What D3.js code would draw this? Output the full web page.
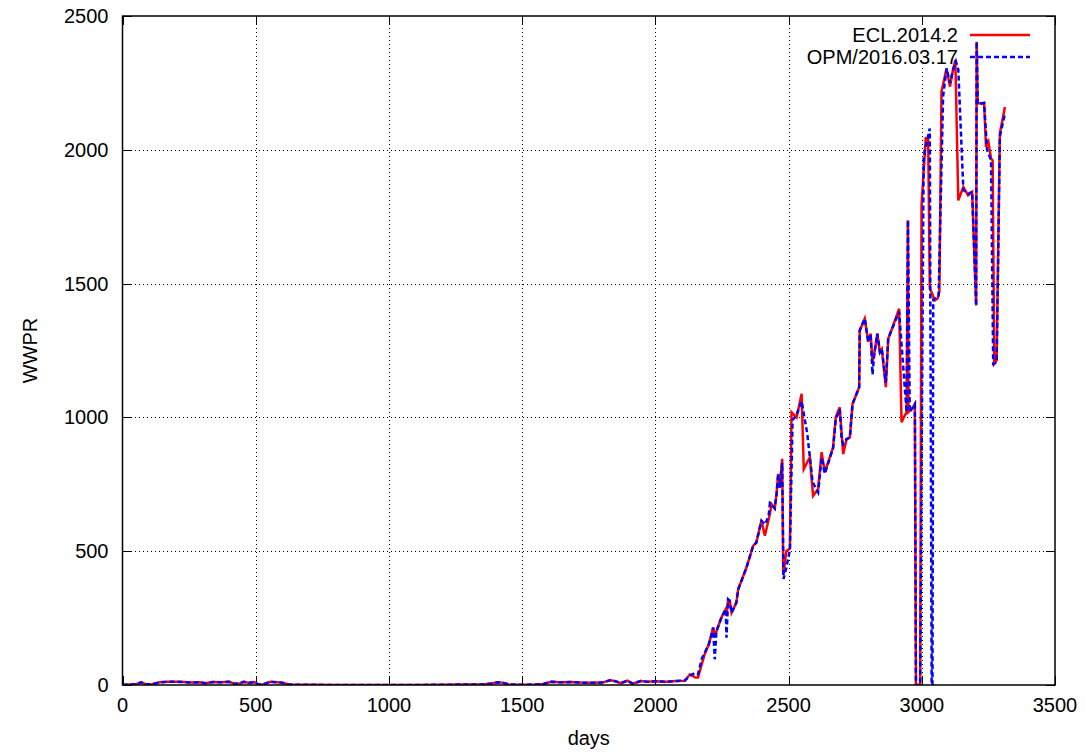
<!DOCTYPE html>
<html>
<head>
<meta charset="utf-8">
<script src="https://cdn.jsdelivr.net/npm/d3@7"></script>
<style>
  body { margin: 0; background: #fff; }
  text { font-family: "Liberation Sans", Arial, sans-serif; fill: #000; }
</style>
</head>
<body>
<div id="chart"></div>
<script>
// ECL.2014.2 series (days, WWPR)
var eclDays = [0, 20, 50, 70, 90, 110, 140, 170, 200, 230, 260, 290, 310, 340, 370, 400, 420, 440, 455, 475, 495, 510, 530, 555, 580, 600, 625, 660, 700, 800, 900, 1000, 1100, 1200, 1300, 1350, 1385, 1410, 1430, 1450, 1500, 1550, 1580, 1610, 1640, 1680, 1720, 1760, 1800, 1830, 1850, 1870, 1895, 1915, 1945, 1970, 2000, 2040, 2080, 2110, 2130, 2150, 2160,
  2185, 2200, 2211, 2217, 2223, 2229, 2248, 2264, 2267, 2273, 2279, 2286, 2304, 2311, 2342, 2367, 2379, 2398, 2411, 2430, 2436, 2448, 2455, 2461, 2467, 2476, 2480, 2492, 2505, 2511, 2530, 2549, 2557, 2580, 2592, 2611, 2624, 2636, 2667, 2677, 2692, 2705, 2718, 2730, 2740, 2765, 2767, 2786, 2799, 2808, 2815, 2822, 2833, 2843, 2850, 2865, 2874, 2886, 2915, 2924, 2935, 2943, 2948, 2950, 2965, 2974, 2978, 2994, 2999, 3015, 3024, 3030, 3040, 3048, 3060, 3066, 3074, 3093, 3106, 3118, 3126, 3137, 3156, 3174, 3189, 3204, 3206, 3210, 3234, 3241, 3250, 3260, 3266, 3272, 3281, 3293, 3312];
var eclWWPR = [0, 2, 3, 10, 2, 3, 10, 12, 12, 11, 9, 10, 7, 11, 10, 12, 5, 6, 12, 8, 11, 2, 3, 12, 10, 8, 2, 1, 1, 0, 0, 0, 0, 1, 2, 2, 6, 10, 8, 2, 1, 2, 4, 12, 10, 11, 9, 8, 9, 18, 14, 7, 16, 5, 15, 12, 14, 12, 15, 16, 40, 28, 28,
  115, 150, 190, 215, 180, 200, 252, 283, 260, 320, 315, 270, 308, 358, 439, 520, 532, 614, 558, 639, 676, 660, 714, 789, 738, 845, 414, 501, 510, 1019, 1000, 1088, 807, 851, 707, 732, 870, 795, 888, 1000, 1038, 863, 919, 925, 1050, 1113, 1325, 1369, 1282, 1313, 1207, 1240, 1313, 1244, 1255, 1113, 1294, 1325, 1406, 982, 1005, 1019, 1737, 1020, 1035, 1050, 0, 0, 1793, 2043, 2040, 1482, 1460, 1437, 1445, 1470, 2217, 2304, 2236, 2304, 2335, 1811, 1861, 1830, 1843, 1418, 2404, 2173, 2175, 2011, 2030, 1967, 1960, 1200, 1213, 2061, 2160];

// OPM/2016.03.17 series (days, WWPR)
var opmDays = [0, 20, 50, 70, 90, 110, 140, 170, 200, 230, 260, 290, 310, 340, 370, 400, 420, 440, 455, 475, 495, 510, 530, 555, 580, 600, 625, 660, 700, 800, 900, 1000, 1100, 1200, 1300, 1350, 1385, 1410, 1430, 1450, 1500, 1550, 1580, 1610, 1640, 1680, 1720, 1760, 1800, 1830, 1850, 1870, 1895, 1915, 1945, 1970, 2000, 2040, 2080, 2110, 2130, 2150, 2160,
  2175, 2200, 2211, 2217, 2223, 2229, 2248, 2264, 2267, 2273, 2279, 2286, 2304, 2311, 2342, 2367, 2379, 2398, 2411, 2425, 2430, 2436, 2448, 2455, 2461, 2467, 2476, 2481, 2492, 2505, 2515, 2530, 2549, 2570, 2590, 2600, 2611, 2624, 2636, 2667, 2677, 2692, 2699, 2705, 2718, 2730, 2740, 2765, 2767, 2786, 2799, 2808, 2815, 2822, 2833, 2843, 2850, 2865, 2874, 2886, 2915, 2943, 2948, 2955, 2965, 2974, 2978, 2994, 3007, 3030, 3037, 3040, 3043, 3063, 3080, 3093, 3106, 3118, 3128, 3137, 3156, 3174, 3189, 3204, 3206, 3210, 3234, 3245, 3260, 3268, 3281, 3293, 3312];
var opmWWPR = [0, 2, 3, 10, 2, 3, 10, 12, 12, 11, 9, 10, 7, 11, 10, 12, 5, 6, 12, 8, 11, 2, 3, 12, 10, 8, 2, 1, 1, 0, 0, 0, 0, 1, 2, 2, 6, 10, 8, 2, 1, 2, 4, 12, 10, 11, 9, 8, 9, 18, 14, 7, 16, 5, 15, 12, 14, 12, 15, 16, 35, 45, 40,
  100, 150, 190, 215, 96, 200, 252, 283, 177, 320, 315, 270, 308, 358, 439, 520, 532, 614, 600, 630, 680, 676, 660, 714, 789, 738, 830, 396, 440, 505, 990, 1010, 1060, 940, 760, 740, 720, 850, 790, 885, 990, 1030, 920, 900, 919, 925, 1050, 1113, 1325, 1369, 1282, 1313, 1160, 1240, 1313, 1244, 1255, 1130, 1294, 1325, 1395, 1019, 1737, 1020, 1035, 1050, 0, 0, 1973, 2080, 0, 0, 1440, 1450, 2200, 2304, 2250, 2300, 2330, 2300, 1850, 1835, 1843, 1418, 2404, 2170, 2175, 2000, 1960, 1200, 1205, 2050, 2135];

var xTicks = [0, 500, 1000, 1500, 2000, 2500, 3000, 3500];
var yTicks = [0, 500, 1000, 1500, 2000, 2500];
var seriesNames = ["ECL.2014.2", "OPM/2016.03.17"];

var width = 1086, height = 753;
var plot = { left: 122.5, right: 1055, top: 16, bottom: 685 };

var svg = d3.select("#chart").append("svg")
  .attr("width", width)
  .attr("height", height);

var x = d3.scaleLinear().domain([0, 3500]).range([plot.left, plot.right]);
var y = d3.scaleLinear().domain([0, 2500]).range([plot.bottom, plot.top]);

// grid
var grid = svg.append("g").attr("stroke", "#000").attr("stroke-width", 1)
  .attr("stroke-dasharray", "1,3").attr("shape-rendering", "crispEdges");
grid.selectAll(".gx").data(xTicks.slice(1, -1)).enter().append("line")
  .attr("x1", d => Math.round(x(d)) + 0.5).attr("x2", d => Math.round(x(d)) + 0.5)
  .attr("y1", plot.top).attr("y2", plot.bottom);
grid.selectAll(".gy").data(yTicks.slice(1, -1)).enter().append("line")
  .attr("y1", d => Math.round(y(d)) + 0.5).attr("y2", d => Math.round(y(d)) + 0.5)
  .attr("x1", plot.left).attr("x2", plot.right);

// key area hides grid
svg.append("rect").attr("x", 800).attr("y", plot.top + 1)
  .attr("width", plot.right - 801).attr("height", 51).attr("fill", "#fff");

// ticks and labels
var tickLen = 9;
var axes = svg.append("g").attr("stroke", "#000").attr("stroke-width", 1)
  .attr("shape-rendering", "crispEdges");
xTicks.forEach(function(d) {
  var px = Math.round(x(d)) + 0.5;
  axes.append("line").attr("x1", px).attr("x2", px).attr("y1", plot.bottom).attr("y2", plot.bottom - tickLen);
  axes.append("line").attr("x1", px).attr("x2", px).attr("y1", plot.top).attr("y2", plot.top + tickLen);
});
yTicks.forEach(function(d) {
  var py = Math.round(y(d)) + 0.5;
  axes.append("line").attr("y1", py).attr("y2", py).attr("x1", plot.left).attr("x2", plot.left + tickLen);
  axes.append("line").attr("y1", py).attr("y2", py).attr("x1", plot.right).attr("x2", plot.right - tickLen);
});

svg.selectAll(".xl").data(xTicks).enter().append("text")
  .attr("x", d => x(d)).attr("y", plot.bottom + 27)
  .attr("text-anchor", "middle").style("font-size", "20px").text(d => d);
svg.selectAll(".yl").data(yTicks).enter().append("text")
  .attr("x", plot.left - 14).attr("y", d => y(d) + 7)
  .attr("text-anchor", "end").style("font-size", "20px").text(d => d);

svg.append("text").attr("x", (plot.left + plot.right) / 2).attr("y", 745)
  .attr("text-anchor", "middle").style("font-size", "20px").text("days");
svg.append("text").attr("transform", "translate(37," + ((plot.top + plot.bottom) / 2) + ") rotate(-90)")
  .attr("text-anchor", "middle").style("font-size", "20px").text("WWPR");

// data lines
svg.append("clipPath").attr("id", "clip").append("rect")
  .attr("x", plot.left).attr("y", plot.top - 2)
  .attr("width", plot.right - plot.left).attr("height", plot.bottom - plot.top + 2);

var line = d3.line().x(d => x(d[0])).y(d => y(d[1]));
var ecl = eclDays.map((d, i) => [d, eclWWPR[i]]);
var opm = opmDays.map((d, i) => [d, opmWWPR[i]]);

var lines = svg.append("g").attr("clip-path", "url(#clip)");
lines.append("path").datum(ecl).attr("d", line)
  .attr("fill", "none").attr("stroke", "#ff0000").attr("stroke-width", 2.5)
  .attr("stroke-linejoin", "miter");
lines.append("path").datum(opm).attr("d", line)
  .attr("fill", "none").attr("stroke", "#0000ff").attr("stroke-width", 2.5)
  .attr("stroke-dasharray", "5,3");

// border
svg.append("rect").attr("x", plot.left).attr("y", plot.top)
  .attr("width", plot.right - plot.left).attr("height", plot.bottom - plot.top)
  .attr("fill", "none").attr("stroke", "#000").attr("stroke-width", 1.5);

// key
var key = svg.append("g");
var keyY = [35, 57];
var keyColors = ["#ff0000", "#0000ff"];
seriesNames.forEach(function(name, i) {
  key.append("text").attr("x", 958).attr("y", keyY[i] + 7)
    .attr("text-anchor", "end").style("font-size", "20px").text(name);
  key.append("line").attr("x1", 970).attr("x2", 1030).attr("y1", keyY[i]).attr("y2", keyY[i])
    .attr("stroke", keyColors[i]).attr("stroke-width", 2.5)
    .attr("stroke-dasharray", i === 1 ? "5,3" : null);
});
</script>
</body>
</html>
